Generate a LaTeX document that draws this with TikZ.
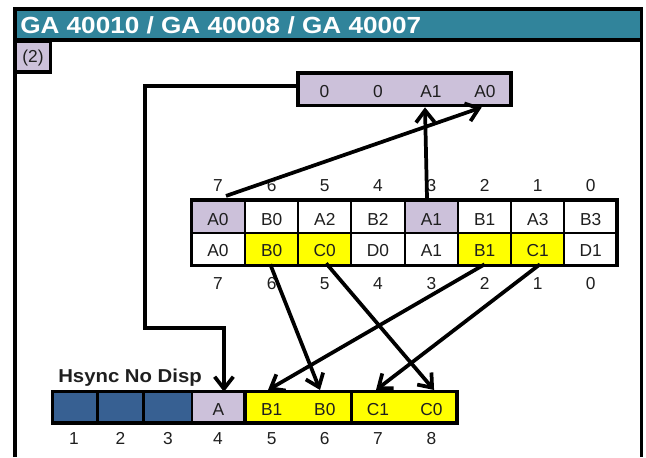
\documentclass[tikz,border=0pt]{standalone}
\usepackage{fontspec}
\setmainfont{Liberation Sans}
\newfontfamily\titlefont[FakeStretch=1.12]{Liberation Sans Bold}
\newfontfamily\hsfont[FakeStretch=1.09]{Liberation Sans Bold}
\usetikzlibrary{arrows.meta}
\definecolor{teal1}{HTML}{31849B}
\definecolor{lilac}{HTML}{CCC1DA}
\definecolor{blue1}{HTML}{376092}
\definecolor{yel}{HTML}{FFFF00}
\def\pxu{0.75pt}
\tikzset{
  x=0.75pt,y=-0.75pt,
  heavy/.style={line width=2.4pt},
  thin cell/.style={draw,line width=1.6pt},
  txt/.style={inner sep=0pt,font=\fontsize{13}{13}\selectfont,text height=9.3pt,text depth=0pt,text=black!88},
  cell/.style={txt,anchor=center,minimum height=33.5*\pxu},
  cw/.style={minimum width=53.2*\pxu},
  link/.style={line width=2.8pt,draw=black,line join=miter},
  arrow/.style={link,-{Straight Barb[length=9pt,width=14pt,line width=2.8pt]}},
}
\begin{document}
\begin{tikzpicture}
\useasboundingbox (0,0) rectangle (646,457);
% frame
\fill[teal1] (15,9) rectangle (641,40);
\draw[heavy] (15,457) -- (15,9) -- (641.5,9) -- (641.5,457);
\draw[heavy] (15,40) -- (641.5,40);
\node[anchor=west,inner sep=0pt,font=\titlefont\fontsize{17.5}{17.5}\selectfont,text=white] (title) at (20,25) {GA 40010 / GA 40008 / GA 40007};
% (2)
\node[txt,fill=lilac,draw=black,line width=2.4pt,minimum width=35*\pxu,minimum height=31*\pxu,text height=11.4pt,text depth=2.5pt] (tag) at (33,56.5) {(2)};
% top register
\fill[lilac] (298,73) rectangle (511,105.5);
\foreach \n/\x/\lab in {t0/324.5/0,t1/378/0,t2/431/A1,t3/485/A0}{
  \node[cell,cw,text height=12.3pt] (\n) at (\x,89) {\lab};
}
\draw[heavy] (298,73) rectangle (511,105.5);
% middle table
\foreach \n/\x/\lab/\col in {a0/218/A0/lilac,a1/271.6/B0/white,a2/324.8/A2/white,a3/378/B2/white,a4/431.4/A1/lilac,a5/484.6/B1/white,a6/537.8/A3/white,a7/590.6/B3/white}{
  \node[cell,cw,thin cell,fill=\col,text height=13.8pt] (\n) at (\x,216) {\lab};
}
\foreach \n/\x/\lab/\col in {b0/218/A0/white,b1/271.6/B0/yel,b2/324.8/C0/yel,b3/378/D0/white,b4/431.4/A1/white,b5/484.6/B1/yel,b6/537.8/C1/yel,b7/590.6/D1/white}{
  \node[cell,cw,thin cell,fill=\col,text height=10.8pt] (\n) at (\x,249.5) {\lab};
}
\draw[heavy] (191.5,200) rectangle (617,265.5);
\foreach \n/\x/\lab in {u0/218/7,u1/271.6/6,u2/324.8/5,u3/378/4,u4/431.4/3,u5/484.6/2,u6/537.8/1,u7/590.6/0}{
  \node[txt] (\n) at (\x,185) {\lab};
}
\foreach \n/\x/\lab in {l0/218/7,l1/271.6/6,l2/324.8/5,l3/378/4,l4/431.4/3,l5/484.6/2,l6/537.8/1,l7/590.6/0}{
  \node[txt] (\n) at (\x,283.5) {\lab};
}
% bottom register
\foreach \n/\x/\w in {s1/75/46,s2/120.5/46,s3/168/48}{
  \node[thin cell,fill=blue1,inner sep=0pt,minimum width=\w*\pxu,minimum height=31*\pxu] (\n) at (\x,407) {};
}
\node[cell,thin cell,fill=lilac,minimum width=53*\pxu,minimum height=31*\pxu,text height=13pt] (sa) at (218.5,407) {A};
\fill[yel] (245,391.5) rectangle (458,423);
\foreach \n/\x/\lab in {sb1/271.6/B1,sb0/324.8/B0,sc1/378/C1,sc0/431.4/C0}{
  \node[cell,cw,text height=13pt] (\n) at (\x,407) {\lab};
}
\draw[heavy] (245,391.5) -- (245,423);
\draw[heavy] (351.5,391.5) -- (351.5,423);
\draw[heavy] (52.5,391.5) rectangle (457,423);
\node[anchor=west,inner sep=0pt,font=\hsfont\fontsize{14}{14}\selectfont,text=black!88] (hs) at (58,377.5) {Hsync No Disp};
\foreach \n/\x/\lab in {n1/74/1,n2/120.5/2,n3/168/3,n4/218/4,n5/271.6/5,n6/324.8/6,n7/378/7,n8/431.4/8}{
  \node[txt] (\n) at (\x,438.5) {\lab};
}
% connectors
\coordinate (bendA) at (145,86);
\coordinate (bendB) at (145,328);
\coordinate (bendC) at (224,328);
\draw[arrow] ([xshift=6pt,yshift=1.7pt]a0.north) -- ([xshift=-2.5pt,yshift=-1pt]t3.south);
\draw[arrow] ([xshift=-3.3pt]a4.north) -- ([xshift=-4.5pt,yshift=-1pt]t2.south);
\draw[arrow] ([yshift=2.25pt]t0.west) -- (bendA) -- (bendB) -- (bendC) -- ([xshift=4.1pt,yshift=-1pt]sa.north);
\draw[arrow] ([xshift=-1pt,yshift=2.25pt]b1.south) -- ([xshift=-3.6pt]sb0.north);
\draw[arrow] ([xshift=1pt,yshift=3pt]b2.south) -- ([xshift=2pt]sc0.north);
\draw[arrow] ([yshift=2.25pt]b5.south) -- ([xshift=-2.7pt]sb1.north);
\draw[arrow] ([xshift=1.6pt,yshift=2.25pt]b6.south) -- ([xshift=-1.5pt]sc1.north);
\end{tikzpicture}
\end{document}
